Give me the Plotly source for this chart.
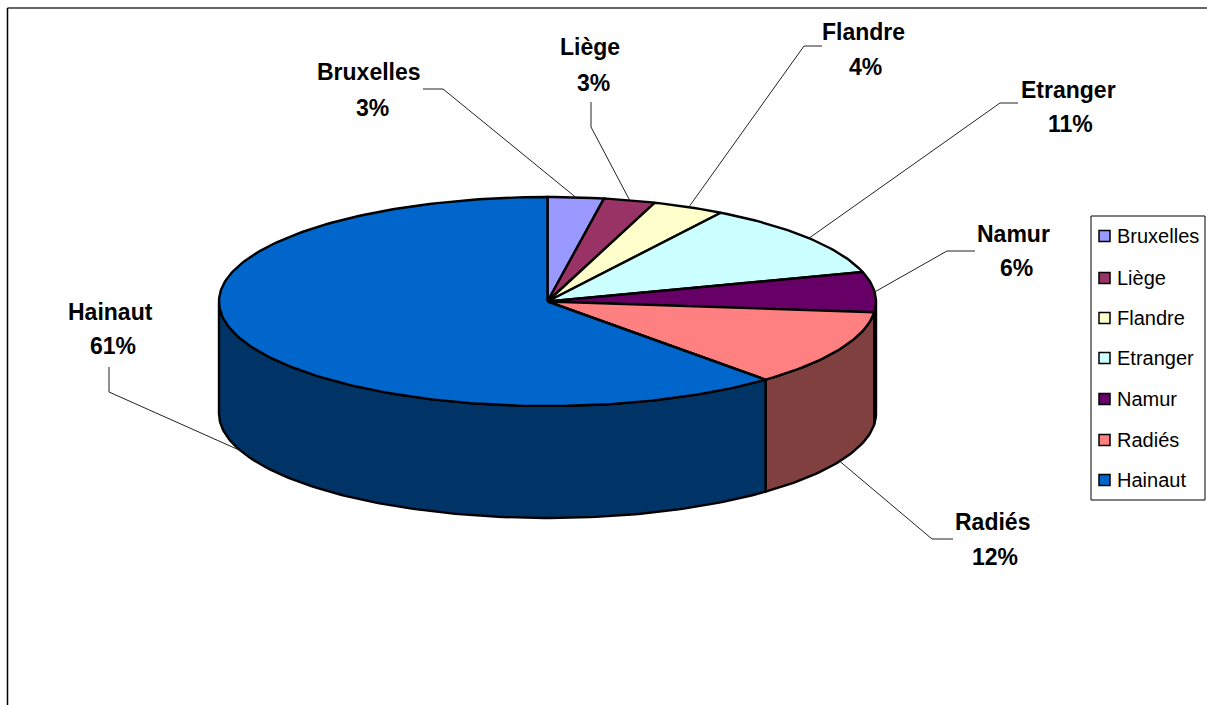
import math
import plotly.graph_objects as go

# ---- data ----
categories = ["Bruxelles", "Liège", "Flandre", "Etranger", "Namur", "Radiés", "Hainaut"]
shares = [2.75, 2.55, 3.55, 11.6, 6.2, 11.8, 61.55]
percent_labels = ["3%", "3%", "4%", "11%", "6%", "12%", "61%"]

# ---- styles ----
top_colors = ["#9999FF", "#993366", "#FFFFCC", "#CCFFFF", "#660066", "#FF8080", "#0066CC"]
wall_colors = ["#4D4D80", "#4D1A33", "#808066", "#668080", "#330033", "#804040", "#003366"]

# ---- layout (pixel-like axis units) ----
W, H = 1207, 705
CX, CY, RX, RY, DEPTH = 547.5, 301.5, 328.5, 104.5, 112
name_xy = [(369, 72), (590, 47), (863, 32), (1068, 90), (1013, 234), (992, 522), (110, 312)]
pct_xy = [(372, 108), (593, 83), (865, 67), (1070, 124), (1016, 268), (995, 557), (113, 346)]
# start of each leader and its elbow
leader_start = [(423, 89), (591, 102), (822, 46), (1018, 103), (975, 251), (953, 539), (109, 367)]
leader_elbow = [(443, 89), (591, 127), (804, 46), (1000, 103), (947, 251), (932, 539), (109, 392)]
legend_y = [236, 278, 318, 358, 399, 440, 480]


def rim(t_deg, drop=0.0):
    t = math.radians(t_deg)
    return CX + RX * math.sin(t), CY - RY * math.cos(t) + drop


def arc(a, b, drop=0.0, step=1.0):
    n = max(2, int(abs(b - a) / step) + 1)
    return [rim(a + (b - a) * i / (n - 1), drop) for i in range(n)]


total = sum(shares)
edges = [0.0]
for v in shares:
    edges.append(edges[-1] + v / total * 360.0)

fig = go.Figure()


def poly(points, fill, name, width=2.4):
    xs = [p[0] for p in points]
    ys = [p[1] for p in points]
    fig.add_trace(go.Scatter(x=xs, y=ys, mode="lines", fill="toself", fillcolor=fill,
                             line=dict(color="#000000", width=width), name=name,
                             showlegend=False, hoverinfo="name"))


# side walls: only the front half of the rim (90..270 degrees) is seen
for i, name in enumerate(categories):
    a, b = max(edges[i], 90.0), min(edges[i + 1], 270.0)
    if b > a:
        top = arc(a, b)
        bottom = arc(b, a, DEPTH)
        poly(top + bottom + [top[0]], wall_colors[i], name + " (side)")

# top face
for i, name in enumerate(categories):
    pts = [(CX, CY)] + arc(edges[i], edges[i + 1]) + [(CX, CY)]
    poly(pts, top_colors[i], name)

# leader lines end on the middle of their slice
for i, name in enumerate(categories):
    mid = (edges[i] + edges[i + 1]) / 2
    drop = DEPTH if 90 < mid < 270 else 0.0
    ex, ey = rim(mid, drop)
    sx, sy = leader_start[i]
    bx, by = leader_elbow[i]
    fig.add_trace(go.Scatter(x=[sx, bx, ex], y=[sy, by, ey], mode="lines",
                             line=dict(color="#222222", width=1), showlegend=False,
                             hoverinfo="skip"))

annotations = []
for i, name in enumerate(categories):
    for txt, (x, y) in ((name, name_xy[i]), (percent_labels[i], pct_xy[i])):
        annotations.append(dict(x=x, y=y, xref="x", yref="y", text="<b>%s</b>" % txt,
                                showarrow=False, xanchor="center", yanchor="middle",
                                font=dict(family="Liberation Sans", size=23, color="#000000")))

# legend
fig.add_trace(go.Scatter(x=[1104.5] * len(categories), y=legend_y, mode="markers",
                         marker=dict(symbol="square", size=11, color=top_colors,
                                     line=dict(color="#000000", width=1.5)),
                         showlegend=False, hoverinfo="skip"))
for i, name in enumerate(categories):
    annotations.append(dict(x=1117, y=legend_y[i], xref="x", yref="y", text=name,
                            showarrow=False, xanchor="left", yanchor="middle", xshift=-2,
                            font=dict(family="Liberation Sans", size=20, color="#000000")))

shapes = [
    dict(type="rect", x0=1091, x1=1205, y0=216, y1=500, xref="x", yref="y",
         line=dict(color="#000000", width=1), layer="below"),
    dict(type="line", x0=7.5, x1=W, y0=8, y1=8, xref="x", yref="y",
         line=dict(color="#333333", width=1.5)),
    dict(type="line", x0=7.5, x1=7.5, y0=8, y1=H, xref="x", yref="y",
         line=dict(color="#000000", width=1.5)),
]

fig.update_layout(
    width=W, height=H, margin=dict(l=0, r=0, t=0, b=0, pad=0),
    paper_bgcolor="#FFFFFF", plot_bgcolor="#FFFFFF",
    xaxis=dict(range=[0, W], visible=False, fixedrange=True),
    yaxis=dict(range=[H, 0], visible=False, fixedrange=True),
    showlegend=False, annotations=annotations, shapes=shapes,
)
fig.write_html("out.html", config=dict(displayModeBar=False),
               post_script="document.body.style.margin='0';document.body.style.overflow='hidden';")
